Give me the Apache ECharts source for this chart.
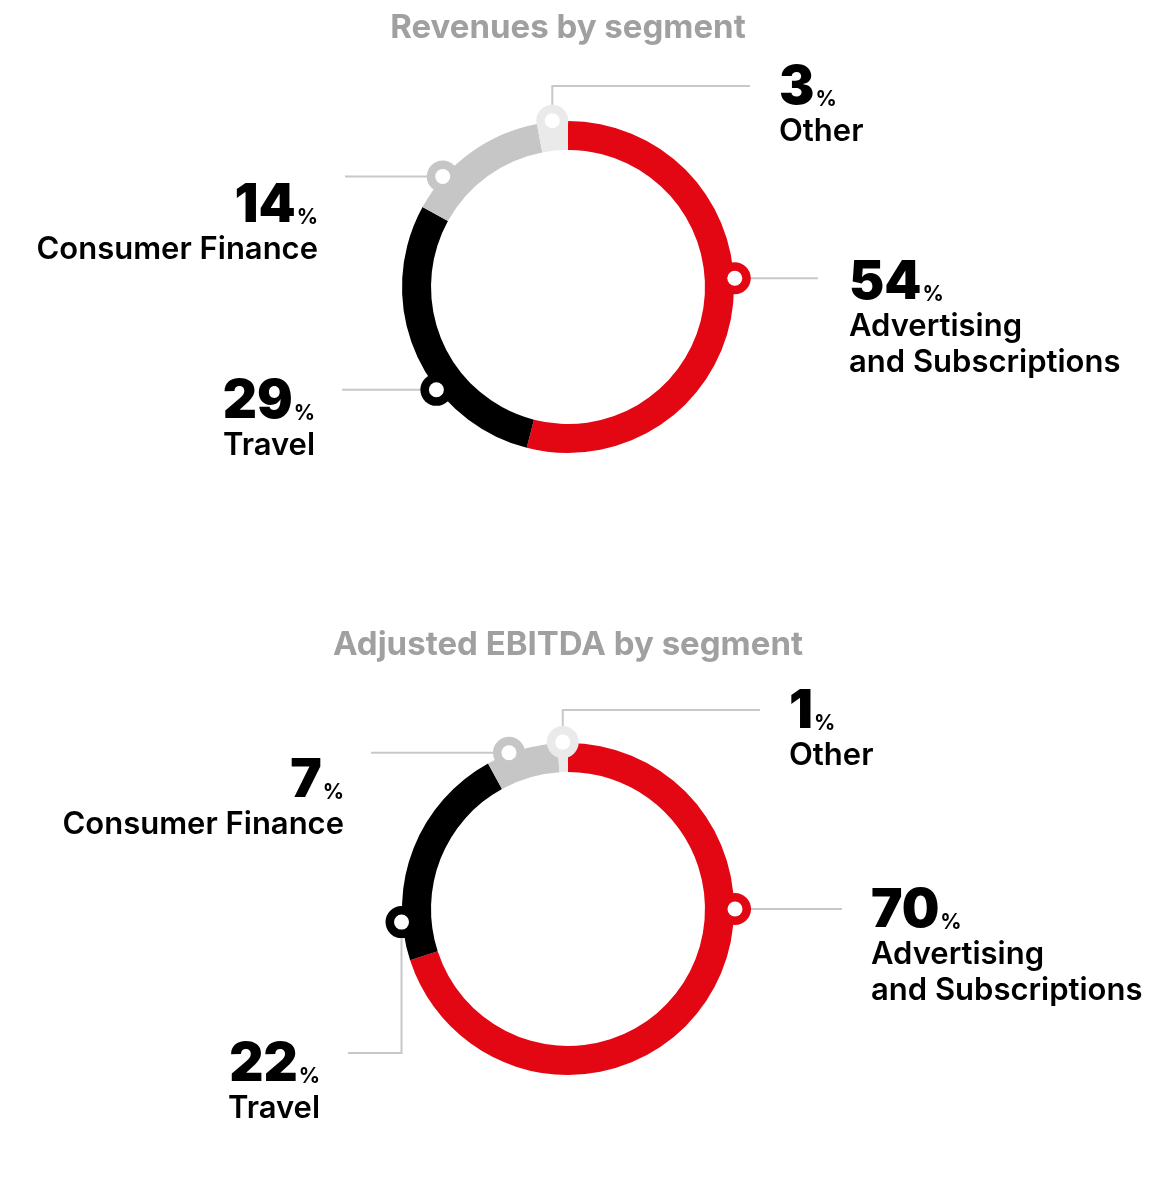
<!DOCTYPE html>
<html>
<head>
<meta charset="utf-8">
<script src="https://cdn.jsdelivr.net/npm/echarts@6/dist/echarts.min.js"></script>
<style>
  html, body { margin: 0; padding: 0; background: #ffffff; }
  #chart { width: 1172px; height: 1186px; }
</style>
</head>
<body>
<div id="chart"></div>
<script>
// Segment names (line breaks are kept in the callout text)
const segments = ['Advertising\nand Subscriptions', 'Travel', 'Consumer Finance', 'Other'];
// Share of revenues by segment, %
const revenueShares = [54, 29, 14, 3];
// Share of adjusted EBITDA by segment, %
const ebitdaShares = [70, 22, 7, 1];
// Chart headings
const chartTitles = ['Revenues by segment', 'Adjusted EBITDA by segment'];

// ---- styling ----
const palette = ['#e30613', '#000000', '#c6c6c6', '#eaeaea'];
const FONT = 'Inter, "Open Sans", sans-serif';
const numFont = '900 53px ' + FONT;
const pctFont = '700 21px ' + FONT;
const labelFont = '600 31px ' + FONT;
const titleFont = '700 33px ' + FONT;
const RING_IN = 137, RING_OUT = 166, PIN_R = 16, PIN_HOLE = 7.5;
const LINE_COLOR = '#c8c8c8';
const MID = 0.36; // canvas 'middle' to alphabetic baseline, in em

// Donut placement and callout layout
const donuts = [
  {
    title: chartTitles[0], shares: revenueShares, cx: 568, cy: 287, titleY: 40,
    callouts: [
      { angle: 87,    route: [['h', 818]],              side: 'left',  x: 849, y: 302 },
      { angle: 232,   route: [['h', 342]],              side: 'right', x: 315, y: 421 },
      { angle: 311.4, route: [['h', 345]],              side: 'right', x: 318, y: 225 },
      { angle: 354.6, route: [['v', 86], ['h', 750]],   side: 'left',  x: 779, y: 107 }
    ]
  },
  {
    title: chartTitles[1], shares: ebitdaShares, cx: 568, cy: 909, titleY: 657,
    callouts: [
      { angle: 90,    route: [['h', 842]],              side: 'left',  x: 871, y: 930 },
      { angle: 265.5, route: [['v', 1053], ['h', 348]], side: 'right', x: 320, y: 1084 },
      { angle: 339.3, route: [['h', 371]],              side: 'right', x: 344, y: 800 },
      { angle: 358.2, route: [['v', 710], ['h', 760]],  side: 'left',  x: 789, y: 731 }
    ]
  }
];

const measureCtx = document.createElement('canvas').getContext('2d');
function textWidth(text, font) {
  measureCtx.font = font;
  return measureCtx.measureText(text).width;
}
function fontSize(font) {
  return parseFloat(font.match(/(\d+(\.\d+)?)px/)[1]);
}
// text element whose alphabetic baseline sits at y
function textAt(text, x, baseline, font, fill, align) {
  return {
    type: 'text', silent: true, z: 20,
    style: {
      text: text, x: x, y: baseline - MID * fontSize(font),
      font: font, fill: fill, align: align, verticalAlign: 'middle'
    }
  };
}

const graphics = [];
donuts.forEach(function (d) {
  graphics.push(textAt(d.title, d.cx, d.titleY, titleFont, '#a0a0a0', 'center'));

  d.callouts.forEach(function (c, i) {
    const rad = c.angle * Math.PI / 180;
    const px = d.cx + (RING_OUT + 1) * Math.sin(rad);
    const py = d.cy - (RING_OUT + 1) * Math.cos(rad);

    // leader line from the pin out to the text
    const pts = [[px, py]];
    let cur = [px, py];
    c.route.forEach(function (step) {
      cur = step[0] === 'h' ? [step[1], cur[1]] : [cur[0], step[1]];
      pts.push(cur);
    });
    graphics.push({
      type: 'polyline', silent: true, z: 5,
      shape: { points: pts },
      style: { stroke: LINE_COLOR, lineWidth: 2, fill: null }
    });

    // pin on the ring
    graphics.push({
      type: 'circle', silent: true, z: 10,
      shape: { cx: px, cy: py, r: PIN_R },
      style: { fill: palette[i] }
    });
    graphics.push({
      type: 'circle', silent: true, z: 11,
      shape: { cx: px, cy: py, r: PIN_HOLE },
      style: { fill: '#ffffff' }
    });

    // value with a small % sign, then the segment name
    const num = String(d.shares[i]);
    const numW = textWidth(num, numFont);
    const pctW = textWidth('%', pctFont);
    if (c.side === 'left') {
      graphics.push(textAt(num, c.x, c.y, numFont, '#000', 'left'));
      graphics.push(textAt('%', c.x + numW + 1, c.y, pctFont, '#000', 'left'));
    } else {
      graphics.push(textAt('%', c.x, c.y, pctFont, '#000', 'right'));
      graphics.push(textAt(num, c.x - pctW - 1, c.y, numFont, '#000', 'right'));
    }
    segments[i].split('\n').forEach(function (line, k) {
      graphics.push(textAt(line, c.x, c.y + 36 + k * 36, labelFont, '#000', c.side));
    });
  });
});

const chart = echarts.init(document.getElementById('chart'), null, { renderer: 'canvas' });
chart.setOption({
  backgroundColor: '#ffffff',
  animation: false,
  series: donuts.map(function (d) {
    return {
      type: 'pie',
      center: [d.cx, d.cy],
      radius: [RING_IN, RING_OUT],
      startAngle: 90,
      clockwise: true,
      silent: true,
      label: { show: false },
      labelLine: { show: false },
      emphasis: { disabled: true },
      itemStyle: { borderWidth: 0 },
      data: segments.map(function (name, i) {
        return { name: name, value: d.shares[i], itemStyle: { color: palette[i] } };
      })
    };
  }),
  graphic: { elements: graphics }
});
</script>
</body>
</html>
